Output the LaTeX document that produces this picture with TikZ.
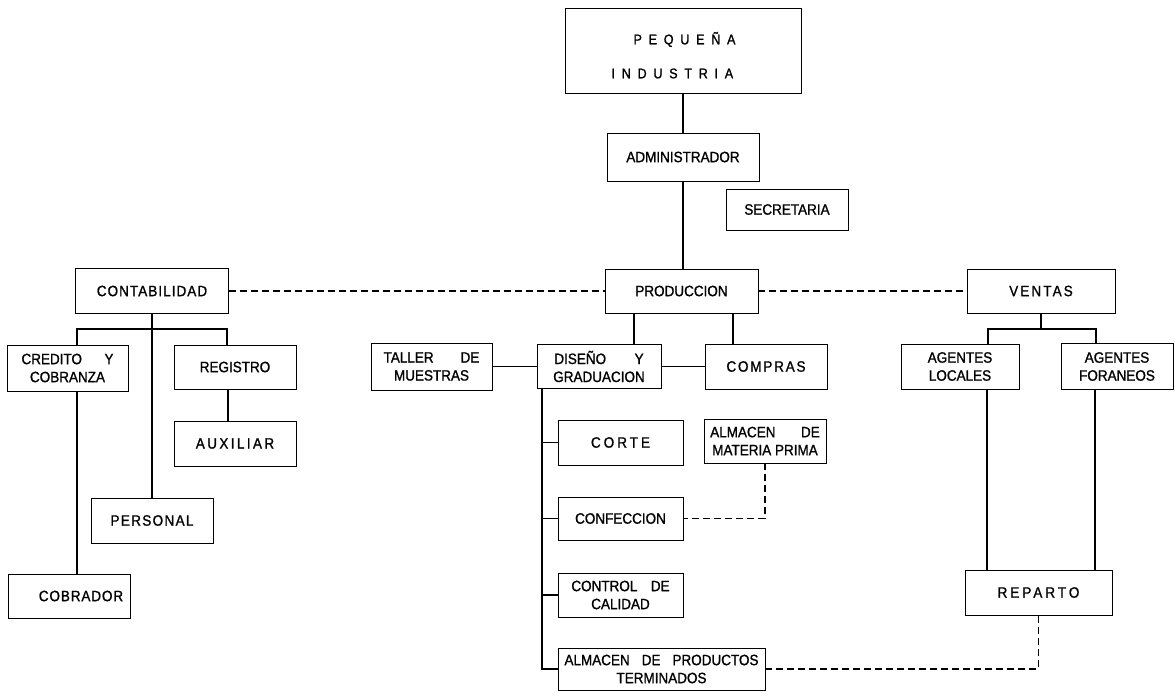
\documentclass[tikz,border=0pt]{standalone}
\usepackage{fontspec}
\setmainfont{Liberation Sans}[FakeStretch=0.9, FakeBold=1.2]
\begin{document}
\begin{tikzpicture}[x=1pt,y=-1pt,
  box/.style={draw, line width=0.8pt, inner sep=0pt, align=center,
    font=\fontsize{15}{18}\selectfont},
  spaced/.style={font=\fontsize{15}{18}\selectfont\addfontfeatures{LetterSpace=#1}},
  conn/.style={line width=1.4pt},
  dconn/.style={line width=1.1pt, dash pattern=on 7pt off 4pt}
]
\useasboundingbox (0,0) rectangle (1175,692);

% nodes
\node[box, minimum width=236pt, minimum height=85pt,
  font=\fontsize{14}{34}\selectfont\addfontfeatures{LetterSpace=48}] (peq) at (683,50.5)
  {\hspace*{-19pt}\raisebox{-4pt}[\height][\depth]{\begin{tabular}{@{}l@{}}\hspace*{22pt}PEQUEÑA\\INDUSTRIA\end{tabular}}};
\node[box, minimum width=152pt, minimum height=48pt] (adm) at (683,157) {ADMINISTRADOR};
\node[box, minimum width=122pt, minimum height=41pt] (sec) at (787,209.5) {SECRETARIA};
\node[box, minimum width=153pt, minimum height=44pt] (prod) at (681.5,291) {PRODUCCION};
\node[box, spaced=7, minimum width=153pt, minimum height=45pt] (cont) at (152,291) {CONTABILIDAD};
\node[box, spaced=14, minimum width=148pt, minimum height=44pt] (ventas) at (1041,291) {VENTAS};

\node[box, minimum width=121pt, minimum height=46pt] (cred) at (67.5,368) {CREDITO\hspace{1.5em}Y\\COBRANZA};
\node[box, minimum width=122pt, minimum height=44pt] (reg) at (235,367) {REGISTRO};
\node[box, spaced=16, minimum width=122pt, minimum height=45pt] (aux) at (235,443.5) {AUXILIAR};
\node[box, spaced=9, minimum width=122pt, minimum height=45pt] (pers) at (152,520.5) {PERSONAL};
\node[box, spaced=6, minimum width=122pt, minimum height=44pt] (cobr) at (69,596) {\hspace*{24pt}COBRADOR};

\node[box, minimum width=121pt, minimum height=47pt] (tall) at (431.5,366.5) {TALLER\hspace{1.8em}DE\\MUESTRAS};
\node[box, minimum width=124pt, minimum height=44pt] (dis) at (599,366.5) {DISEÑO\hspace{1.9em}Y\\GRADUACION};
\node[box, spaced=12, minimum width=122pt, minimum height=45pt] (comp) at (766,366.5) {COMPRAS};
\node[box, spaced=20, minimum width=125pt, minimum height=45pt] (corte) at (620.5,442.5) {CORTE};
\node[box, minimum width=122pt, minimum height=44pt] (amp) at (765,441) {ALMACEN\hspace{1.7em}DE\\MATERIA PRIMA};
\node[box, minimum width=125pt, minimum height=43pt] (conf) at (620.5,518.5) {CONFECCION};
\node[box, minimum width=125pt, minimum height=44pt] (ctrl) at (620.5,595) {CONTROL\hspace{0.9em}DE\\CALIDAD};
\node[box, minimum width=207pt, minimum height=42pt] (apt) at (661.5,669) {ALMACEN\hspace{0.8em}DE\hspace{0.8em}PRODUCTOS\\TERMINADOS};

\node[box, minimum width=118pt, minimum height=45pt] (agl) at (960,366.5) {AGENTES\\LOCALES};
\node[box, minimum width=112pt, minimum height=46pt] (agf) at (1117,366.5) {AGENTES\\FORANEOS};
\node[box, spaced=20, minimum width=147pt, minimum height=45pt] (rep) at (1038.5,592.5) {REPARTO};

% junction coordinates
\coordinate (cbar) at (152,329);
\coordinate (vbar) at (1042,329);
\coordinate (spine) at (542,388);

% solid connectors
\draw[conn] (peq.south) -- (adm.north);
\draw[conn] (adm.south) -- (adm.south |- prod.north);
\draw[conn] (cont.south) -- (pers.north);
\draw[conn] ([xshift=9.5pt]cred.north) |- (cbar) -| ([xshift=-8pt]reg.north);
\draw[conn] ([xshift=9.5pt]cred.south) -- ([xshift=9.5pt]cred.south |- cobr.north);
\draw[conn] ([xshift=-7pt]reg.south) -- ([xshift=-7pt]aux.north);

\draw[conn] ([xshift=35pt]dis.north |- prod.south) -- ([xshift=35pt]dis.north);
\draw[conn] ([xshift=-33pt]comp.north |- prod.south) -- ([xshift=-33pt]comp.north);
\draw[conn] (tall.east) -- (dis.west);
\draw[conn] (dis.east) -- (comp.west);
\draw[conn] (spine) |- (apt.west);
\draw[conn] (spine |- corte.west) -- (corte.west);
\draw[conn] (spine |- conf.west) -- (conf.west);
\draw[conn] (spine |- ctrl.west) -- (ctrl.west);

\draw[conn] (ventas.south) -- (ventas.south |- vbar);
\draw[conn] ([xshift=28pt]agl.north) |- (vbar) -| ([xshift=-21pt]agf.north);
\draw[conn] ([xshift=27pt]agl.south) -- ([xshift=27pt]agl.south |- rep.north);
\draw[conn] ([xshift=-22pt]agf.south) -- ([xshift=-22pt]agf.south |- rep.north);

% dashed connectors
\draw[dconn] (cont.east) -- (prod.west);
\draw[dconn] (prod.east) -- (ventas.west);
\draw[dconn] (amp.south) |- (conf.east);
\draw[dconn] (apt.east) -| (rep.south);
\end{tikzpicture}
\end{document}
